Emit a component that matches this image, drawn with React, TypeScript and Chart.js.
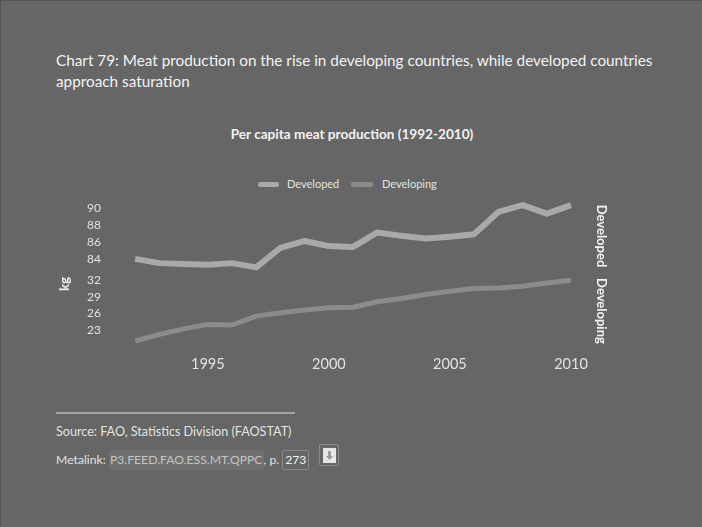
import React, { useEffect, useRef } from "react";
import { Chart, registerables } from "chart.js";

Chart.register(...registerables);

const years = [1992, 1993, 1994, 1995, 1996, 1997, 1998, 1999, 2000, 2001, 2002, 2003, 2004, 2005, 2006, 2007, 2008, 2009, 2010];
const developed = [84.0, 83.5, 83.4, 83.3, 83.5, 83.0, 85.3, 86.1, 85.5, 85.4, 87.1, 86.7, 86.4, 86.6, 86.9, 89.5, 90.3, 89.3, 90.3];
const developing = [21.0, 22.2, 23.2, 24.0, 23.9, 25.5, 26.1, 26.6, 27.0, 27.1, 28.1, 28.7, 29.4, 30.0, 30.5, 30.6, 30.9, 31.5, 32.0];
const xTicks = [1995, 2000, 2005, 2010];
const developedTicks = [84, 86, 88, 90];
const developingTicks = [23, 26, 29, 32];

const BG = "#666666";
const DEV_COLOR = "#a9a9a9";
const DEVING_COLOR = "#8b8b8b";
const TEXT = "#e2e2e2";
const FONT = "Lato, 'Open Sans', sans-serif";

export default function App() {
  const ref = useRef<HTMLCanvasElement | null>(null);

  useEffect(() => {
    if (!ref.current) return;
    const tickCfg = (size: number) => ({
      color: TEXT,
      font: { family: FONT, size },
      padding: 10,
      autoSkip: false,
      maxRotation: 0,
      callback: (v: any) => String(v),
    });
    const chart = new Chart(ref.current, {
      type: "line",
      data: {
        datasets: [
          {
            label: "Developed",
            data: years.map((y, i) => ({ x: y, y: developed[i] })),
            yAxisID: "yTop",
            borderColor: DEV_COLOR,
            borderWidth: 6,
            pointRadius: 0,
            borderJoinStyle: "round",
            tension: 0,
          },
          {
            label: "Developing",
            data: years.map((y, i) => ({ x: y, y: developing[i] })),
            yAxisID: "yBot",
            borderColor: DEVING_COLOR,
            borderWidth: 5,
            pointRadius: 0,
            borderJoinStyle: "round",
            tension: 0,
          },
        ],
      },
      options: {
        animation: false,
        responsive: false,
        maintainAspectRatio: false,
        layout: { padding: { top: 0, bottom: 6, left: 0, right: 117 } },
        plugins: { legend: { display: false }, title: { display: false }, tooltip: { enabled: false } },
        scales: {
          x: {
            type: "linear",
            min: 1991,
            max: 2010.62,
            grid: { display: false, drawTicks: false },
            border: { display: false },
            ticks: tickCfg(14.5),
            afterBuildTicks: (s: any) => {
              s.ticks = xTicks.map((v) => ({ value: v }));
            },
            afterFit: (s: any) => {
              s.height = 30;
            },
          },
          yBot: {
            type: "linear",
            position: "left",
            stack: "kg",
            stackWeight: 75,
            weight: 0,
            min: 20.1,
            max: 33.7,
            grid: { display: false, drawTicks: false },
            border: { display: false },
            ticks: tickCfg(12),
            afterBuildTicks: (s: any) => {
              s.ticks = developingTicks.map((v) => ({ value: v }));
            },
            afterFit: (s: any) => {
              s.width = 110;
            },
          },
          yTop: {
            type: "linear",
            position: "left",
            stack: "kg",
            stackWeight: 71.4,
            weight: 1,
            min: 82.6,
            max: 91,
            grid: { display: false, drawTicks: false },
            border: { display: false },
            ticks: tickCfg(12),
            afterBuildTicks: (s: any) => {
              s.ticks = developedTicks.map((v) => ({ value: v }));
            },
            afterFit: (s: any) => {
              s.width = 110;
            },
          },
        },
      },
    } as any);
    return () => chart.destroy();
  }, []);

  const abs = (style: React.CSSProperties): React.CSSProperties => ({ position: "absolute", ...style });

  return (
    <div
      style={{
        position: "fixed",
        left: 0,
        top: 0,
        width: 702,
        height: 527,
        background: BG,
        fontFamily: FONT,
        overflow: "hidden",
        boxSizing: "border-box",
        borderLeft: "1px solid #555",
        borderTop: "1px solid #555",
      }}
    >
      <div style={abs({ left: 55, top: 49, fontSize: 15.3, lineHeight: "21px", color: "#f2f2f2", whiteSpace: "nowrap" })}>
        Chart 79: Meat production on the rise in developing countries, while developed countries
        <br />
        approach saturation
      </div>
      <div style={abs({ left: 0, width: 702, top: 125, textAlign: "center", fontSize: 13.6, fontWeight: 700, lineHeight: "16px", color: "#f2f2f2" })}>
        Per capita meat production (1992-2010)
      </div>

      <div style={abs({ left: 257, top: 180.5, width: 21, height: 5, borderRadius: 2, background: DEV_COLOR })} />
      <div style={abs({ left: 286, top: 176, fontSize: 11, lineHeight: "14px", color: TEXT, whiteSpace: "nowrap" })}>Developed</div>
      <div style={abs({ left: 350, top: 180.5, width: 22, height: 5, borderRadius: 2, background: DEVING_COLOR })} />
      <div style={abs({ left: 381, top: 176, fontSize: 11, lineHeight: "14px", color: TEXT, whiteSpace: "nowrap" })}>Developing</div>

      <canvas ref={ref} width={702} height={200} style={abs({ left: 0, top: 181, width: 702, height: 200 })} />

      <div
        style={abs({ left: 63, top: 283, fontSize: 13, fontWeight: 700, lineHeight: "16px", color: "#f2f2f2", transform: "translate(-50%, -50%) rotate(-90deg)", whiteSpace: "nowrap" })}
      >
        kg
      </div>
      <div
        style={abs({ left: 601, top: 235, fontSize: 13, fontWeight: 700, lineHeight: "16px", color: "#f2f2f2", transform: "translate(-50%, -50%) rotate(90deg)", whiteSpace: "nowrap" })}
      >
        Developed
      </div>
      <div
        style={abs({ left: 601, top: 310, fontSize: 13, fontWeight: 700, lineHeight: "16px", color: "#f2f2f2", transform: "translate(-50%, -50%) rotate(90deg)", whiteSpace: "nowrap" })}
      >
        Developing
      </div>

      <div style={abs({ left: 55, top: 411, width: 239, height: 2, background: "#a4a4a4" })} />
      <div style={abs({ left: 55, top: 423, fontSize: 12.6, lineHeight: "16px", color: TEXT, whiteSpace: "nowrap" })}>
        Source: FAO, Statistics Division (FAOSTAT)
      </div>
      <div style={abs({ left: 55, top: 449, fontSize: 12.2, lineHeight: "16px", color: TEXT, whiteSpace: "nowrap", display: "flex", alignItems: "center" })}>
        <span>Metalink:&nbsp;</span>
        <span style={{ background: "#6f6f6f", color: "#c4c4c4", padding: "2px 1px", borderRadius: 2 }}>P3.FEED.FAO.ESS.MT.QPPC</span>
        <span>, p.&nbsp;</span>
        <span style={{ border: "1px solid #8a8a8a", borderRadius: 2, padding: "1px 2px", color: "#f0f0f0" }}>273</span>
      </div>
      <div style={abs({ left: 318, top: 443, width: 20, height: 22, boxSizing: "border-box", border: "1px solid #8a8a8a", borderRadius: 2, display: "flex", alignItems: "center", justifyContent: "center" })}>
        <svg width="13" height="15" viewBox="0 0 13 15">
          <rect x="0" y="0" width="13" height="15" fill="#e6e6e6" />
          <rect x="5" y="3" width="3" height="5" fill="#9a9a9a" />
          <polygon points="3,8 10,8 6.5,12" fill="#9a9a9a" />
        </svg>
      </div>
    </div>
  );
}
